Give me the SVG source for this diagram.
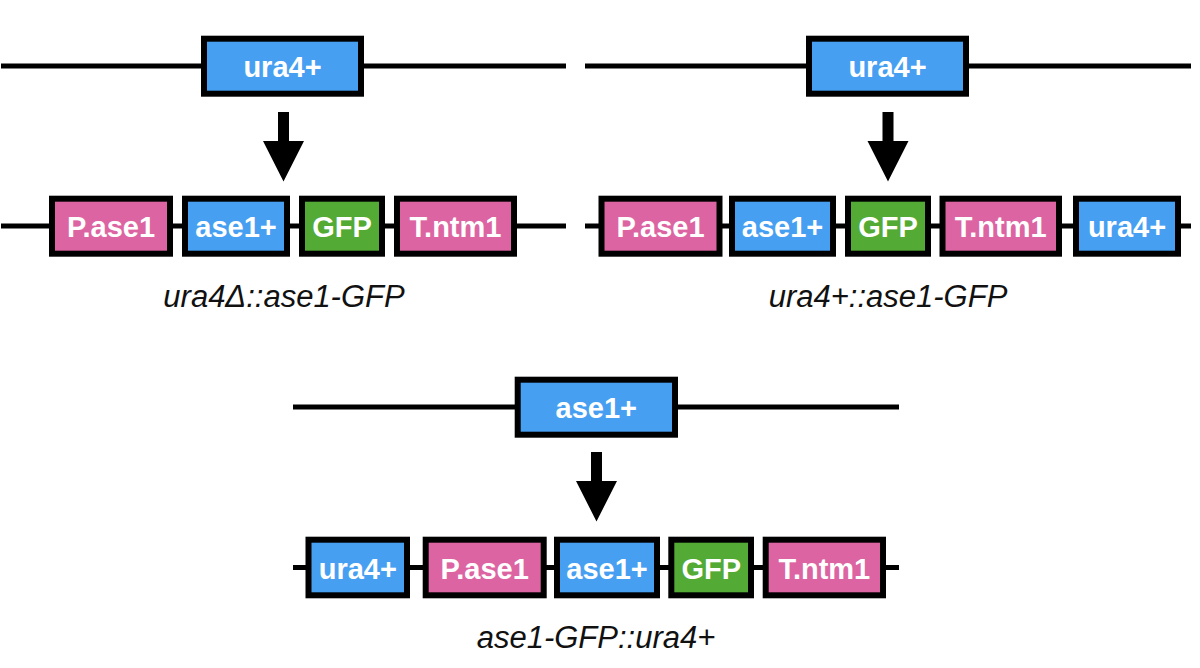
<svg xmlns="http://www.w3.org/2000/svg" width="1200" height="668" viewBox="0 0 1200 668">
<style>
.bb{stroke:#000;stroke-width:6}
.blue{fill:#479ff2}
.pink{fill:#dd64a2}
.green{fill:#53aa35}
.t{font-family:"Liberation Sans",Arial,sans-serif;font-weight:bold;font-size:29px;fill:#fff;text-anchor:middle}
.lab{font-family:"Liberation Sans",Arial,sans-serif;font-style:italic;font-size:31px;fill:#111;text-anchor:middle}
.ln{stroke:#000;stroke-width:5;fill:none}
.ar{fill:#000}
</style>
<rect width="1200" height="668" fill="#fff"/>
<g id="connectors">
<line class="ln" x1="1" y1="66" x2="566" y2="66"/>
<line class="ln" x1="1" y1="226" x2="566" y2="226"/>
<line class="ln" x1="585" y1="66" x2="1191" y2="66"/>
<line class="ln" x1="585" y1="226" x2="1191" y2="226"/>
<line class="ln" x1="293" y1="407" x2="899" y2="407"/>
<line class="ln" x1="293" y1="567.5" x2="899" y2="567.5"/>
<path class="ar" d="M278 112 H289 V141 H304 L283.5 181.5 L263 141 H278 Z"/>
<path class="ar" d="M882.5 112 H893.5 V141 H908.5 L888 181.5 L867.5 141 H882.5 Z"/>
<path class="ar" d="M591 452 H602 V481 H617 L596.5 521.5 L576 481 H591 Z"/>
</g>
<g id="p1-top-ura4"><rect class="bb blue" x="204" y="38.7" width="157" height="55"/><text class="t" x="282.5" y="76.5">ura4+</text></g>
<g id="p1-pase1"><rect class="bb pink" x="52" y="198.7" width="118" height="55"/><text class="t" x="111" y="236.5">P.ase1</text></g>
<g id="p1-ase1"><rect class="bb blue" x="185" y="198.7" width="102" height="55"/><text class="t" x="236" y="236.5">ase1+</text></g>
<g id="p1-gfp"><rect class="bb green" x="302" y="198.7" width="80" height="55"/><text class="t" x="342" y="236.5">GFP</text></g>
<g id="p1-tntm1"><rect class="bb pink" x="397" y="198.7" width="117" height="55"/><text class="t" x="455.5" y="236.5">T.ntm1</text></g>
<g id="p1-label"><text class="lab" x="284" y="307">ura4Δ::ase1-GFP</text></g>

<g id="p2-top-ura4"><rect class="bb blue" x="809" y="38.7" width="157" height="55"/><text class="t" x="887.5" y="76.5">ura4+</text></g>
<g id="p2-pase1"><rect class="bb pink" x="601.5" y="198.7" width="118" height="55"/><text class="t" x="660.5" y="236.5">P.ase1</text></g>
<g id="p2-ase1"><rect class="bb blue" x="732" y="198.7" width="101" height="55"/><text class="t" x="782.5" y="236.5">ase1+</text></g>
<g id="p2-gfp"><rect class="bb green" x="848" y="198.7" width="80" height="55"/><text class="t" x="888" y="236.5">GFP</text></g>
<g id="p2-tntm1"><rect class="bb pink" x="942.5" y="198.7" width="116.5" height="55"/><text class="t" x="1000.7" y="236.5">T.ntm1</text></g>
<g id="p2-ura4"><rect class="bb blue" x="1076" y="198.7" width="102" height="55"/><text class="t" x="1127" y="236.5">ura4+</text></g>
<g id="p2-label"><text class="lab" x="888" y="307">ura4+::ase1-GFP</text></g>

<g id="p3-top-ase1"><rect class="bb blue" x="517.7" y="379.7" width="157.3" height="55"/><text class="t" x="596.3" y="417.5">ase1+</text></g>
<g id="p3-ura4"><rect class="bb blue" x="308.5" y="539.7" width="98.5" height="55.6"/><text class="t" x="357.8" y="578.5">ura4+</text></g>
<g id="p3-pase1"><rect class="bb pink" x="425.7" y="539.7" width="118" height="55.6"/><text class="t" x="484.7" y="578.5">P.ase1</text></g>
<g id="p3-ase1"><rect class="bb blue" x="557" y="539.7" width="100" height="55.6"/><text class="t" x="607" y="578.5">ase1+</text></g>
<g id="p3-gfp"><rect class="bb green" x="671.3" y="539.7" width="79.7" height="55.6"/><text class="t" x="711.2" y="578.5">GFP</text></g>
<g id="p3-tntm1"><rect class="bb pink" x="765.7" y="539.7" width="117.3" height="55.6"/><text class="t" x="824.3" y="578.5">T.ntm1</text></g>
<g id="p3-label"><text class="lab" x="596" y="648">ase1-GFP::ura4+</text></g>
</svg>
